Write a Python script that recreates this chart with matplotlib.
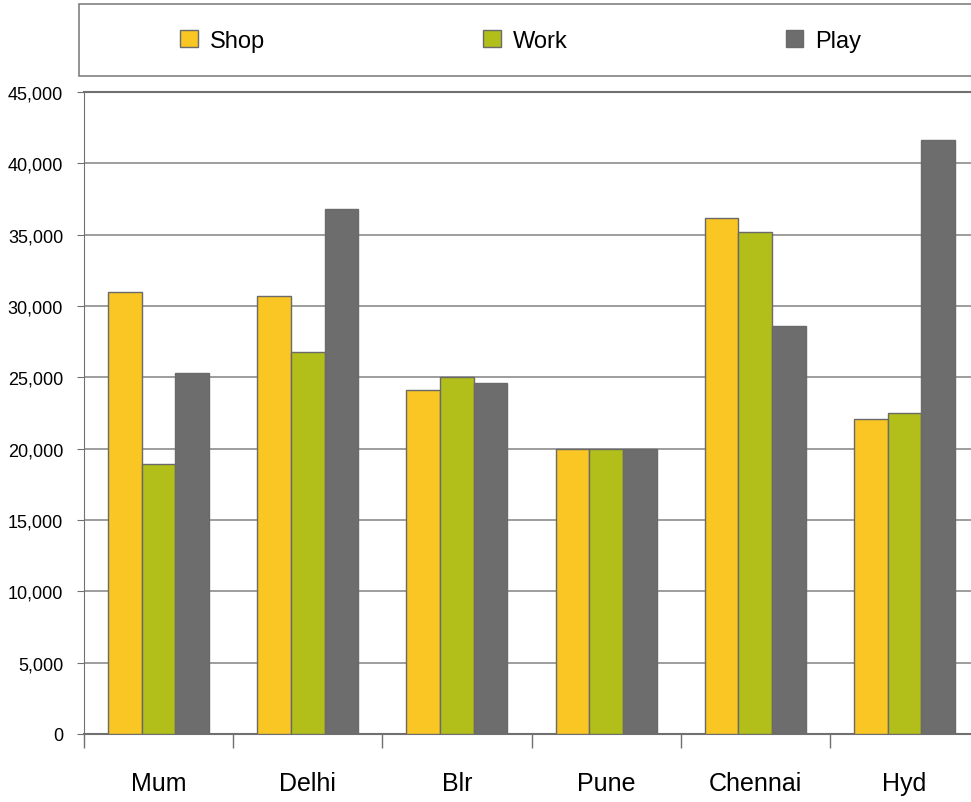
import numpy as np
import matplotlib.pyplot as plt
from matplotlib.patches import Rectangle
from matplotlib.ticker import FuncFormatter

plt.rcParams['font.family'] = ['Liberation Sans Narrow', 'Liberation Sans', 'DejaVu Sans']

cities = ['Mum', 'Delhi', 'Blr', 'Pune', 'Chennai', 'Hyd']
shop = [31000, 30700, 24100, 20000, 36200, 22100]
work = [18900, 26800, 25000, 20000, 35200, 22500]
play = [25300, 36800, 24600, 20000, 28600, 41650]

series = [('Shop', shop, '#F9C623'), ('Work', work, '#B2BE1A'), ('Play', play, '#6D6D6D')]

fig = plt.figure(figsize=(9.71, 8.03), dpi=100)
ax = fig.add_axes([84 / 971, 1 - 735 / 803, 895 / 971, 642 / 803])

x = np.arange(len(cities))
w = 0.226
for i, (name, vals, col) in enumerate(series):
    ax.bar(x + (i - 1) * w, vals, w, color=col, edgecolor='#6a6a6a', linewidth=1.0,
           label=name, zorder=3)

ax.set_xlim(-0.5, len(cities) - 0.5)
ax.set_ylim(0, 45000)
ax.set_yticks(np.arange(0, 45001, 5000))
ax.yaxis.set_major_formatter(FuncFormatter(lambda v, p: f'{int(v):,}'))
ax.grid(axis='y', color='#8c8c8c', linewidth=1.2, zorder=0)

# category labels centred, ticks at the boundaries
ax.set_xticks(x)
ax.set_xticklabels(cities, fontsize=18)
ax.tick_params(axis='x', length=0, pad=27)
ax.set_xticks(np.arange(-0.5, len(cities)), minor=True)
ax.tick_params(axis='x', which='minor', length=10, color='#707070', width=1)
ax.tick_params(axis='y', length=5, color='#707070', labelsize=13, pad=10)

ax.spines['right'].set_visible(False)
ax.spines['top'].set_color('#707070')
ax.spines['top'].set_linewidth(1.5)
ax.spines['left'].set_color('#707070')
ax.spines['bottom'].set_color('#707070')
ax.spines['bottom'].set_linewidth(1.5)

# legend box across the top
fig.patches.append(Rectangle((79 / 971, 1 - 77 / 803), 1.0, 72 / 803, transform=fig.transFigure,
                             facecolor='white', edgecolor='#808080', linewidth=1.2))
handles, labels = ax.get_legend_handles_labels()
fig.legend(handles, labels, loc='center left', bbox_to_anchor=(180 / 971, 1 - 42 / 803),
           ncol=3, frameon=False, fontsize=17, handlelength=0.75, handleheight=0.75,
           handletextpad=0.5, columnspacing=9.25, borderaxespad=0, borderpad=0)

fig.savefig('out.png', dpi=100)
